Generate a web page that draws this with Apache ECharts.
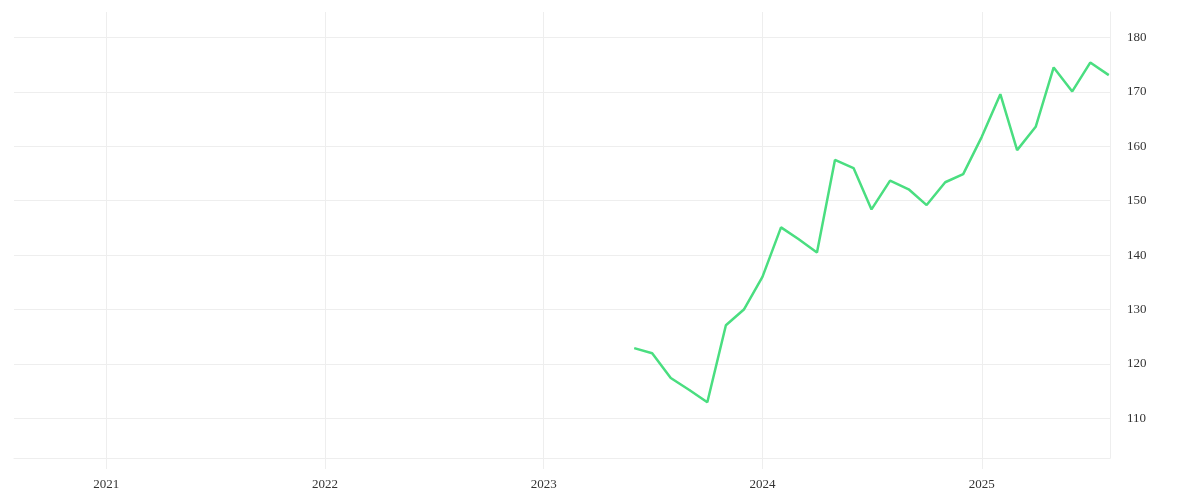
<!DOCTYPE html>
<html>
<head>
<meta charset="utf-8">
<script src="https://cdn.jsdelivr.net/npm/echarts@6/dist/echarts.min.js"></script>
<style>html,body{margin:0;padding:0;background:#fff}#c{width:1200px;height:500px}</style>
</head>
<body>
<div id="c"></div>
<script>
const dates = ['2023-06-01','2023-07-01','2023-08-01','2023-09-01','2023-10-01','2023-11-01','2023-12-01',
  '2024-01-01','2024-02-01','2024-03-01','2024-04-01','2024-05-01','2024-06-01','2024-07-01','2024-08-01',
  '2024-09-01','2024-10-01','2024-11-01','2024-12-01','2025-01-01','2025-02-01','2025-03-01','2025-04-01',
  '2025-05-01','2025-06-01','2025-07-01','2025-08-01'];
const values = [122.9,121.95,117.4,115.2,112.95,127.1,130.0,
  136.0,145.1,142.95,140.5,157.5,156.0,148.4,153.7,
  152.1,149.2,153.4,154.9,161.75,169.6,159.3,163.6,
  174.5,170.1,175.4,173.1];
const xRange = ['2020-07-31','2025-08-03'];
const yRange = [102.7, 184.7];

const chart = echarts.init(document.getElementById('c'), null, {renderer:'canvas'});
const gridColor = '#eeeeee';
chart.setOption({
  animation:false,
  grid:{left:14,right:90,top:12,bottom:42,containLabel:false},
  xAxis:{
    type:'time',
    min:xRange[0], max:xRange[1],
    minInterval:365*24*3600*1000*0.9,
    axisLine:{show:true,lineStyle:{color:gridColor,width:1}},
    axisTick:{show:true,length:11,lineStyle:{color:gridColor}},
    splitLine:{show:true,showMinLine:false,showMaxLine:true,lineStyle:{color:gridColor,width:1}},
    axisLabel:{
      color:'#333',fontFamily:'"Liberation Serif", serif',fontSize:13,margin:20,
      showMinLabel:false, showMaxLabel:false,
      formatter:(v)=>String(new Date(v).getFullYear())
    }
  },
  yAxis:{
    type:'value',position:'right',
    min:yRange[0],max:yRange[1],splitNumber:8,
    axisLine:{show:true,lineStyle:{color:gridColor}},
    axisTick:{show:false},
    splitLine:{show:true,showMinLine:true,showMaxLine:false,lineStyle:{color:gridColor,width:1}},
    axisLabel:{color:'#333',fontFamily:'"Liberation Serif", serif',fontSize:13,margin:17,
      padding:[3,0,0,0],
      showMinLabel:false,showMaxLabel:false}
  },
  series:[{
    type:'line',
    data:dates.map((d,i)=>[d,values[i]]),
    showSymbol:false,symbol:'none',
    lineStyle:{color:'#4ade80',width:2.5},
    itemStyle:{color:'#4ade80'}
  }]
});
</script>
</body>
</html>
